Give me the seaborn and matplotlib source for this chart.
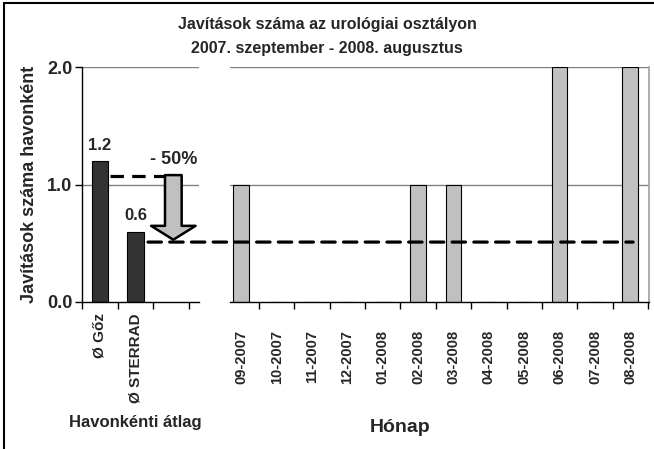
import matplotlib
matplotlib.use("Agg")
import matplotlib.pyplot as plt
from matplotlib.patches import ConnectionPatch
from matplotlib.lines import Line2D
import seaborn as sns
import numpy as np

# data
avg_labels = ['Ø Gőz', 'Ø STERRAD']
avg_values = [1.2, 0.6]
month_labels = ['09-2007', '10-2007', '11-2007', '12-2007', '01-2008', '02-2008',
                '03-2008', '04-2008', '05-2008', '06-2008', '07-2008', '08-2008']
month_values = [1, 0, 0, 0, 0, 1, 1, 0, 0, 2, 0, 2]
before_level = 1.07   # dashed line, before
after_level = 0.51    # dashed line, after
reduction_text = '- 50%'

sns.set_style("white")
plt.rcParams['font.family'] = ['Liberation Sans', 'DejaVu Sans']
plt.rcParams['font.weight'] = 'bold'

W, H = 654, 449
fig = plt.figure(figsize=(W / 100, H / 100), dpi=100)


def px_axes(x0, x1, ytop, ybot):
    return fig.add_axes([x0 / W, (H - ybot) / H, (x1 - x0) / W, (ybot - ytop) / H])


ax1 = px_axes(82, 199, 67, 302)
ax2 = px_axes(230, 649, 67, 302)

dark = '#333333'
light = '#c0c0c0'
grid_c = '#808080'

sns.barplot(x=avg_labels, y=avg_values, ax=ax1, color=dark, saturation=1,
            width=0.45, edgecolor='black', linewidth=0.8)
sns.barplot(x=month_labels, y=month_values, ax=ax2, color=light, saturation=1,
            width=0.45, edgecolor='black', linewidth=0.8)

for ax in (ax1, ax2):
    ax.set_ylim(0, 2)
    ax.set_xlabel('')
    ax.set_ylabel('')
    for y in (1.0, 2.0):
        ax.axhline(y, color=grid_c, lw=1, zorder=0)
    for s in ('top', 'right'):
        ax.spines[s].set_visible(False)
    ax.spines['bottom'].set_color('black')
    ax.spines['bottom'].set_linewidth(1)

ax1.set_xlim(-0.5, 2.78)
ax2.set_xlim(-0.32, 11.53)
ax2.spines['left'].set_visible(False)
ax2.spines['right'].set_visible(True)
ax2.spines['right'].set_color('#a0a0a0')
ax2.spines['right'].set_linewidth(1.2)

# y axis (left panel only)
ax1.spines['left'].set_color('black')
ax1.spines['left'].set_linewidth(1)
ax1.set_yticks([0, 1, 2])
ax1.set_yticklabels(['0.0', '1.0', '2.0'], fontsize=13, fontweight='bold')
ax1.tick_params(axis='y', direction='out', length=5, width=1, left=True, color='black', pad=2)
ax2.set_yticks([])

# category labels at centres, tick marks at boundaries
ax1.set_xticks(range(len(avg_labels)))
ax1.set_xticklabels(avg_labels, rotation=90, fontsize=11, fontweight='bold')
ax1.set_xticks(np.arange(-0.5, 3, 1), minor=True)
ax2.set_xticks(range(len(month_labels)))
ax2.set_xticklabels(month_labels, rotation=90, fontsize=10.5, fontweight='bold')
ax2.set_xticks(np.arange(0.5, 12, 1), minor=True)
ax1.tick_params(axis='x', which='major', length=0, pad=8)
ax2.tick_params(axis='x', which='major', length=0, pad=20)
for ax in (ax1, ax2):
    ax.tick_params(axis='x', which='minor', direction='out', length=5, width=1,
                   bottom=True, color='black')

# value labels on the average bars
for i, v in enumerate(avg_values):
    ax1.annotate(f'{v:.1f}', (i, v), xytext=(0, 6), textcoords='offset points',
                 ha='center', va='bottom', fontsize=12, fontweight='bold')

# dashed reference lines
ax1.plot([0.28, 1.88], [before_level, before_level], color='black', lw=2.3,
         dashes=(4.2, 2.6), clip_on=False, zorder=3)
con = ConnectionPatch(xyA=(1.35, after_level), coordsA=ax1.transData,
                      xyB=(11.08, after_level), coordsB=ax2.transData,
                      color='black', lw=2.3, linestyle=(0, (4.2, 2.6)), zorder=3)
fig.add_artist(con)

# block arrow
ax1.annotate('', xy=(2.06, after_level + 0.02), xytext=(2.06, before_level + 0.01),
             arrowprops=dict(arrowstyle='simple,head_length=1.0,head_width=3.2,tail_width=1.2',
                             mutation_scale=10, fc=light, ec='black', lw=1.8,
                             shrinkA=0, shrinkB=0),
             annotation_clip=False)
ax1.text(2.06, before_level + 0.07, reduction_text, ha='center', va='bottom',
         fontsize=13, fontweight='bold', clip_on=False)

# titles and axis labels
fig.text(0.5, (H - 28.5) / H, 'Javítások száma az urológiai osztályon', ha='center',
         va='baseline', fontsize=11.5, fontweight='bold')
fig.text(0.5, (H - 53.5) / H, '2007. szeptember - 2008. augusztus', ha='center',
         va='baseline', fontsize=11.5, fontweight='bold')
fig.text(30 / W, (H - 184) / H, 'Javítások száma havonként', rotation=90,
         ha='center', va='center', fontsize=13, fontweight='bold')
fig.text(135 / W, (H - 422) / H, 'Havonkénti átlag', ha='center', va='center',
         fontsize=12, fontweight='bold')
fig.text(400 / W, (H - 427) / H, 'Hónap', ha='center', va='center',
         fontsize=14, fontweight='bold')

# outer frame (top and left edges visible)
fig.add_artist(Line2D([4 / W, 1], [(H - 3) / H, (H - 3) / H], color='black', lw=1.5,
                      transform=fig.transFigure))
fig.add_artist(Line2D([4 / W, 4 / W], [0, (H - 3) / H], color='black', lw=1.5,
                      transform=fig.transFigure))

fig.savefig('out.png', dpi=100)
